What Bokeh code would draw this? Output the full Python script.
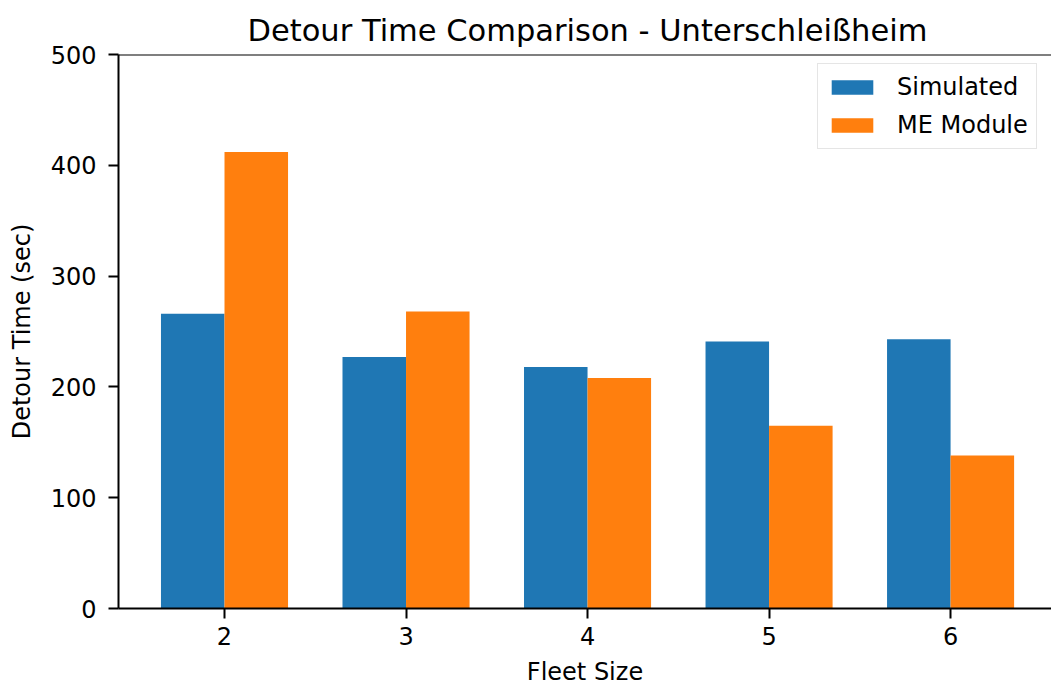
from bokeh.plotting import figure
from bokeh.models import ColumnDataSource, Range1d, Span, Title, FixedTicker
from bokeh.transform import dodge
from bokeh.embed import file_html
from bokeh.resources import INLINE

fleet_sizes = [2, 3, 4, 5, 6]
simulated = [266, 227, 218, 241, 243]
me_module = [412, 268, 208, 165, 138]
y_ticks = [0, 100, 200, 300, 400, 500]
title_text = "Detour Time Comparison - Unterschleißheim"

FONT = "DejaVu Sans"
src = ColumnDataSource(dict(x=fleet_sizes, sim=simulated, me=me_module))

p = figure(width=1051, height=688, output_backend="svg", toolbar_location=None,
           x_range=Range1d(1.416, 6.556), y_range=Range1d(0, 500),
           min_border_left=118, min_border_right=0, min_border_top=54, min_border_bottom=78)
p.outline_line_color = None
p.xgrid.visible = False
p.ygrid.visible = False
p.background_fill_color = "white"
p.border_fill_color = "white"

bw = 0.35
p.vbar(x=dodge("x", -bw / 2, range=p.x_range), top="sim", width=bw, source=src,
       color="#1f77b4", line_color=None, legend_label="Simulated")
p.vbar(x=dodge("x", bw / 2, range=p.x_range), top="me", width=bw, source=src,
       color="#ff7f0e", line_color=None, legend_label="ME Module")

for ax in (p.xaxis[0], p.yaxis[0]):
    ax.axis_line_width = 2
    ax.axis_line_color = "black"
    ax.major_tick_line_width = 2
    ax.major_tick_line_color = "black"
    ax.major_tick_out = 10
    ax.major_tick_in = 0
    ax.minor_tick_out = 0
    ax.minor_tick_in = 0
    ax.major_label_text_font = FONT
    ax.major_label_text_font_size = "24px"
    ax.major_label_text_color = "black"
    ax.axis_label_text_font = FONT
    ax.axis_label_text_font_size = "24px"
    ax.axis_label_text_font_style = "normal"
    ax.axis_label_text_color = "black"

p.xaxis.major_label_standoff = 8
p.yaxis.major_label_standoff = 12
p.xaxis.ticker = FixedTicker(ticks=fleet_sizes)
p.yaxis.ticker = FixedTicker(ticks=y_ticks)
p.xaxis.axis_label = "Fleet Size"
p.yaxis.axis_label = "Detour Time (sec)"
p.xaxis.axis_label_standoff = 10
p.yaxis.axis_label_standoff = 12

p.add_layout(Span(location=500, dimension="width", line_color="black", line_width=2))

p.title = Title(text=title_text, align="left", offset=129, text_font=FONT,
                text_font_size="30.5px", text_font_style="normal", text_color="black", standoff=13)

lg = p.legend[0]
lg.location = (699, 459)
lg.margin = 0
lg.padding = 8
lg.spacing = 8
lg.glyph_width = 52
lg.glyph_height = 18
lg.label_height = 30
lg.label_standoff = 19
lg.label_text_font = FONT
lg.label_text_font_size = "24px"
lg.label_text_color = "black"
lg.border_line_color = "#cccccc"
lg.border_line_width = 1
lg.background_fill_alpha = 0.8

open("out.html", "w").write(file_html(p, INLINE))
